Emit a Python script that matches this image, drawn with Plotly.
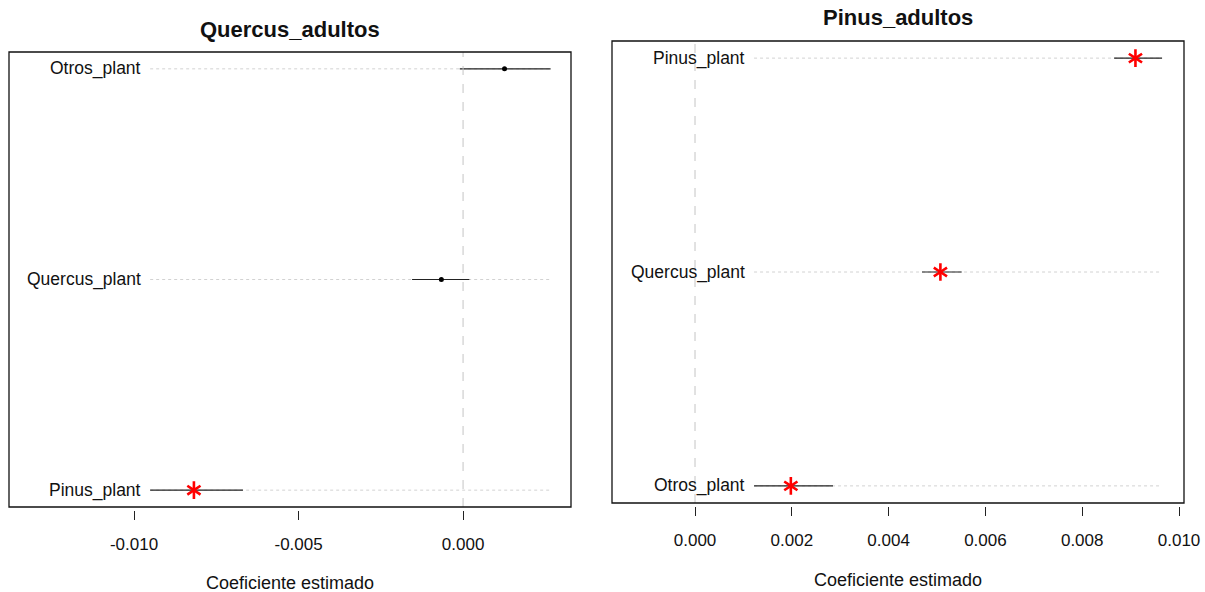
import plotly.graph_objects as go

# ---- Model coefficients (estimate and 95% interval) ----
# Quercus_adultos
q_terms = ["Pinus_plant", "Quercus_plant", "Otros_plant"]
q_est = [-0.00818, -0.00066, 0.00126]
q_lo = [-0.00951, -0.00155, -0.00010]
q_hi = [-0.00669, 0.00019, 0.00266]

# Pinus_adultos
p_terms = ["Otros_plant", "Quercus_plant", "Pinus_plant"]
p_est = [0.00198, 0.00507, 0.00910]
p_lo = [0.00122, 0.00469, 0.00866]
p_hi = [0.00285, 0.00551, 0.00965]

q_tickvals = [-0.010, -0.005, 0.000]
q_ticktext = ["-0.010", "-0.005", "0.000"]
p_tickvals = [0.000, 0.002, 0.004, 0.006, 0.008, 0.010]
p_ticktext = ["0.000", "0.002", "0.004", "0.006", "0.008", "0.010"]

W, H = 1205, 592
FONT = "Liberation Sans, Arial, sans-serif"


def px_x(v):
    return v / W


def px_y(v):
    return 1 - v / H


fig = go.Figure()

panels = [
    dict(name="Quercus_adultos", terms=q_terms, est=q_est, lo=q_lo, hi=q_hi,
         tv=q_tickvals, tt=q_ticktext, xr=[-0.0138, 0.00328],
         box=(9, 571, 52, 507), title_y=30, xlab_y=583, ax=""),
    dict(name="Pinus_adultos", terms=p_terms, est=p_est, lo=p_lo, hi=p_hi,
         tv=p_tickvals, tt=p_ticktext, xr=[-0.001715, 0.010103],
         box=(612, 1184, 41, 503), title_y=17, xlab_y=580, ax="2"),
]

annotations = []
shapes = []

for p in panels:
    xa, ya = "x" + p["ax"], "y" + p["ax"]
    rows = list(range(1, len(p["terms"]) + 1))
    xmin, xmax = min(p["lo"]), max(p["hi"])

    # dotted row guides spanning the interval range
    gx, gy = [], []
    for r in rows:
        gx += [xmin, xmax, None]
        gy += [r, r, None]
    fig.add_trace(go.Scatter(x=gx, y=gy, mode="lines", xaxis=xa, yaxis=ya,
                             line=dict(color="#d2d2d2", width=1, dash="dot"),
                             hoverinfo="skip", showlegend=False))

    for r, e, lo, hi in zip(rows, p["est"], p["lo"], p["hi"]):
        signif = lo > 0 or hi < 0
        err = dict(type="data", symmetric=False, array=[hi - e],
                   arrayminus=[e - lo], color="#222", thickness=1.1, width=0)
        if signif:
            # six-armed asterisk built from two opposed "Y" symbols
            for k, sym in enumerate(["y-up-open", "y-down-open"]):
                fig.add_trace(go.Scatter(
                    x=[e], y=[r], mode="markers", xaxis=xa, yaxis=ya,
                    marker=dict(symbol=sym, size=11, color="red",
                                line=dict(color="red", width=2.6)),
                    error_x=err if k == 0 else None, showlegend=False))
        else:
            fig.add_trace(go.Scatter(
                x=[e], y=[r], mode="markers", xaxis=xa, yaxis=ya,
                marker=dict(symbol="circle", size=5, color="black"),
                error_x=err, showlegend=False))
        annotations.append(dict(x=xmin, y=r, xref=xa, yref=ya, text=p["terms"][r - 1],
                                xanchor="right", yanchor="middle", xshift=-7,
                                showarrow=False,
                                font=dict(family=FONT, size=17.5, color="#111")))

    x0, x1, y0, y1 = p["box"]
    # zero reference line
    shapes.append(dict(type="line", xref=xa, yref=ya + " domain", x0=0, x1=0,
                       y0=0, y1=1, line=dict(color="#c4c4c4", width=1, dash="dash")))
    # plot frame
    shapes.append(dict(type="rect", xref=xa + " domain", yref=ya + " domain",
                       x0=0, x1=1, y0=0, y1=1, line=dict(color="#111", width=1.3)))

    dom_x = [px_x(x0), px_x(x1)]
    dom_y = [px_y(y1), px_y(y0)]
    key = "xaxis" + p["ax"]
    ykey = "yaxis" + p["ax"]
    fig.update_layout(**{
        key: dict(domain=dom_x, range=p["xr"], anchor="free",
                  position=px_y(y1 + 3), showline=False, showgrid=False,
                  zeroline=False, ticks="outside", ticklen=9, tickwidth=1,
                  tickcolor="#222", tickvals=p["tv"], ticktext=p["tt"],
                  ticklabelstandoff=10, automargin=False,
                  tickfont=dict(family=FONT, size=17, color="#111")),
        ykey: dict(domain=dom_y, range=[0.92, 3.08], visible=False,
                   anchor=xa, fixedrange=True, automargin=False),
    })

    cx = px_x((x0 + x1) / 2)
    annotations.append(dict(x=cx, y=px_y(p["title_y"]), xref="paper", yref="paper",
                            text="<b>" + p["name"] + "</b>", showarrow=False,
                            xanchor="center", yanchor="middle",
                            font=dict(family=FONT, size=22, color="#111")))
    annotations.append(dict(x=cx, y=px_y(p["xlab_y"]), xref="paper", yref="paper",
                            text="Coeficiente estimado", showarrow=False,
                            xanchor="center", yanchor="middle",
                            font=dict(family=FONT, size=18, color="#111")))

fig.update_layout(width=W, height=H, autosize=False,
                  margin=dict(l=0, r=0, t=0, b=0, autoexpand=False),
                  paper_bgcolor="white", plot_bgcolor="white",
                  annotations=annotations, shapes=shapes, showlegend=False)

fig.write_html("out.html", config={"displayModeBar": False})
